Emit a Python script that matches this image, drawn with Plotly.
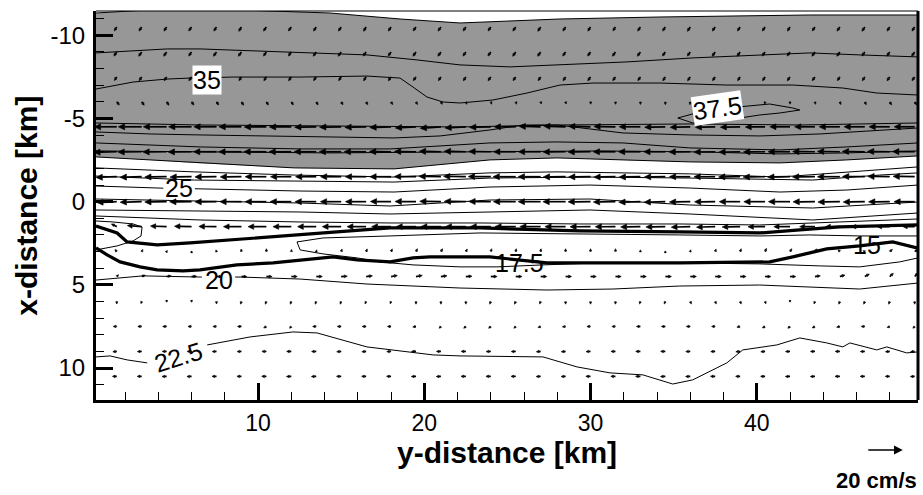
import math
import plotly.graph_objects as go

FONT = "Liberation Sans, Arial, sans-serif"
GRAY = "#979797"

# ------------------------------------------------------------------
# Velocity field (cm/s): columns along y-distance, rows along x-distance
# u > 0 points towards larger y-distance, v > 0 towards larger x-distance
# ------------------------------------------------------------------
grid_y_km = [1.5, 3.0, 4.5, 6.0, 7.5, 9.0, 10.5, 12.0, 13.5, 15.0, 16.5,
             18.0, 19.5, 21.0, 22.5, 24.0, 25.5, 27.0, 28.5, 30.0, 31.5, 33.0,
             34.5, 36.0, 37.5, 39.0, 40.5, 42.0, 43.5, 45.0, 46.5, 48.0, 49.5]
grid_x_km = [-10.5, -9.0, -7.5, -6.0, -4.5, -3.0, -1.5, 0.0, 1.5, 3.0, 4.5,
             6.0, 7.5, 9.0, 10.5]

u_cms = [
    [-1.4, -1.5, -1.5, -1.6, -1.5, -1.5, -1.6, -1.6, -1.5, -1.5, -1.4,
     -1.5, -1.6, -1.6, -1.5, -1.5, -1.6, -1.6, -1.5, -1.5, -1.4, -1.5,
     -1.5, -1.6, -1.6, -1.5, -1.5, -1.4, -1.5, -1.6, -1.6, -1.5, -1.5],
    [-1.6, -1.7, -1.7, -1.6, -1.7, -1.7, -1.6, -1.6, -1.7, -1.7, -1.6,
     -1.6, -1.7, -1.7, -1.6, -1.6, -1.7, -1.7, -1.6, -1.6, -1.7, -1.7,
     -1.6, -1.6, -1.7, -1.7, -1.6, -1.6, -1.7, -1.7, -1.6, -1.6, -1.7],
    [-1.3, -1.4, -1.4, -1.5, -1.5, -1.4, -1.4, -1.5, -1.5, -1.4, -1.4,
     -1.5, -1.5, -1.4, -1.4, -1.5, -1.5, -1.4, -1.4, -1.5, -1.5, -1.4,
     -1.4, -1.5, -1.5, -1.4, -1.4, -1.5, -1.5, -1.4, -1.4, -1.5, -1.5],
    [1.4, 1.4, 1.3, 1.3, 1.2, 1.2, 1.1, 1.1, 1.0, 1.0, 0.9,
     0.9, 0.8, 0.8, 0.6, 0.5, 0.5, 0.4, 0.3, 0.2, 0.1, 0.0,
     0.0, -0.2, -0.3, -0.3, -0.2, 0.0, 0.3, 0.5, 0.8, 1.0, 1.1],
    [-12.5, -13.0, -13.0, -12.8, -12.6, -12.5, -12.3, -12.2, -12.0, -12.0, -11.8,
     -11.8, -11.5, -11.5, -11.6, -11.8, -12.0, -12.0, -12.2, -12.2, -12.0, -11.8,
     -11.5, -11.2, -11.0, -11.0, -11.0, -11.2, -11.3, -11.5, -11.5, -11.5, -11.4],
    [-12.8, -13.2, -13.2, -13.0, -12.8, -12.6, -12.5, -12.4, -12.3, -12.2, -12.2,
     -12.0, -12.0, -12.0, -12.0, -12.2, -12.3, -12.4, -12.5, -12.5, -12.4, -12.2,
     -12.0, -11.8, -11.8, -11.8, -12.0, -12.2, -12.4, -12.5, -12.5, -12.4, -12.3],
    [-11.5, -12.0, -12.2, -12.0, -12.0, -11.8, -11.8, -11.6, -11.5, -11.5, -11.6,
     -11.8, -12.0, -12.2, -12.4, -12.5, -12.6, -12.5, -12.4, -12.2, -12.0, -11.8,
     -11.6, -11.6, -11.8, -12.0, -12.2, -12.4, -12.5, -12.5, -12.4, -12.2, -12.0],
    [-11.0, -12.0, -12.2, -12.2, -12.0, -12.0, -11.8, -11.8, -11.8, -11.6, -11.5,
     -11.5, -11.6, -11.8, -12.0, -12.2, -12.4, -12.5, -12.6, -12.5, -12.3, -12.0,
     -11.8, -11.6, -11.5, -11.6, -11.8, -12.0, -12.2, -12.2, -12.0, -11.8, -11.5],
    [-3.0, -8.0, -9.0, -9.5, -9.8, -10.0, -10.2, -10.2, -10.4, -10.5, -10.6,
     -10.8, -11.0, -11.2, -11.4, -11.5, -11.6, -11.6, -11.5, -11.4, -11.2, -11.0,
     -10.8, -10.6, -10.4, -10.0, -9.5, -9.0, -8.5, -8.0, -7.5, -7.0, -6.5],
    [-1.0, 0.6, 0.4, 0.0, -0.3, -0.2, 0.0, 0.2, 0.3, 0.5, 0.6,
     0.7, 0.8, 0.9, 0.8, 0.5, 0.3, 0.2, 0.0, 0.0, 0.0, 0.0,
     0.0, 0.3, 0.5, 0.6, 0.8, 1.0, 1.2, -1.0, -1.0, 1.5, 1.8],
    [1.0, 2.0, 2.5, 2.8, 3.0, 3.0, 3.2, 3.3, 3.4, 3.4, 3.5,
     3.5, 3.5, 3.4, 3.4, 3.5, 3.5, 3.4, 3.3, 3.2, 3.2, 3.3,
     3.4, 3.4, 3.4, 3.3, 3.2, 3.2, 3.0, 2.8, 2.5, 2.0, 1.8],
    [0.0, -0.4, 0.0, 0.0, 0.0, -0.5, -0.6, -0.6, -0.6, -0.6, -0.6,
     -0.5, 0.0, 0.0, 0.0, -0.6, -0.7, -0.6, 0.0, 0.0, 0.0, -0.5,
     -0.6, 0.6, 0.6, 0.6, 0.5, 0.0, -0.5, -0.6, -0.6, -0.6, 0.0],
    [-2.0, -2.2, -2.2, -2.0, -2.0, -2.2, -1.5, -1.0, -2.0, -2.2, -2.2,
     -2.0, -1.8, -1.0, -1.2, -1.2, -1.0, -1.5, -1.8, -2.0, -2.0, -2.2,
     -2.2, -2.2, -2.0, -1.8, -1.5, -1.2, -1.5, -1.8, -2.0, -1.5, -1.0],
    [-2.2, -2.4, -2.5, -2.5, -2.4, -2.4, -2.5, -2.6, -2.6, -2.5, -2.4,
     -2.4, -2.5, -2.5, -2.6, -2.6, -2.5, -2.4, -2.4, -2.5, -2.5, -2.6,
     -2.6, -2.5, -2.5, -2.4, -2.4, -2.5, -2.5, -2.6, -2.5, -2.4, -2.3],
    [-2.4, -2.5, -2.6, -2.6, -2.5, -2.5, -2.6, -2.7, -2.7, -2.6, -2.5,
     -2.5, -2.6, -2.6, -2.7, -2.7, -2.6, -2.5, -2.5, -2.6, -2.6, -2.7,
     -2.7, -2.6, -2.6, -2.5, -2.5, -2.6, -2.6, -2.7, -2.6, -2.5, -2.4],
]

v_cms = [
    [2.2, 2.3, 2.3, 2.2, 2.3, 2.4, 2.3, 2.2, 2.3, 2.3, 2.4,
     2.3, 2.2, 2.3, 2.3, 2.2, 2.3, 2.4, 2.3, 2.3, 2.2, 2.3,
     2.3, 2.4, 2.3, 2.2, 2.3, 2.3, 2.2, 2.3, 2.4, 2.3, 2.3],
    [2.3, 2.4, 2.4, 2.3, 2.4, 2.4, 2.3, 2.3, 2.4, 2.4, 2.3,
     2.3, 2.4, 2.4, 2.3, 2.3, 2.4, 2.4, 2.3, 2.3, 2.4, 2.4,
     2.3, 2.3, 2.4, 2.4, 2.3, 2.3, 2.4, 2.4, 2.3, 2.3, 2.4],
    [2.0, 2.1, 2.2, 2.2, 2.1, 2.1, 2.2, 2.2, 2.1, 2.1, 2.2,
     2.2, 2.1, 2.1, 2.2, 2.2, 2.1, 2.1, 2.2, 2.2, 2.1, 2.1,
     2.2, 2.2, 2.1, 2.1, 2.2, 2.2, 2.1, 2.1, 2.2, 2.2, 2.1],
    [1.8, 1.9, 1.9, 1.8, 1.8, 1.9, 1.8, 1.7, 1.7, 1.6, 1.6,
     1.5, 1.5, 1.4, 1.4, 1.3, 1.3, 1.2, 1.2, 1.3, 1.4, 1.5,
     1.6, 1.6, 1.5, 1.4, 1.3, 1.3, 1.4, 1.5, 1.6, 1.7, 1.7],
    [0.0, 0.0, 0.0, 0.0, 0.0, 0.0, 0.1, 0.1, 0.2, 0.2, 0.3,
     0.4, 0.6, 0.8, 0.6, 0.3, 0.0, -0.3, -0.4, -0.3, -0.2, 0.0,
     0.2, 0.3, 0.3, 0.2, 0.1, 0.0, 0.0, 0.0, 0.0, 0.0, 0.0],
    [0.3, 0.2, 0.1, 0.1, 0.0, 0.0, 0.0, 0.0, 0.0, 0.0, 0.0,
     -0.1, -0.2, -0.3, -0.3, -0.2, 0.0, 0.0, 0.1, 0.1, 0.0, 0.0,
     0.0, 0.1, 0.2, 0.2, 0.1, 0.0, -0.1, -0.2, -0.2, -0.2, -0.1],
    [0.4, 0.3, 0.2, 0.2, 0.1, 0.1, 0.0, 0.0, 0.0, 0.0, 0.0,
     0.0, -0.1, -0.2, -0.2, -0.1, 0.0, 0.0, 0.1, 0.1, 0.2, 0.2,
     0.1, 0.0, 0.0, 0.1, 0.2, 0.2, 0.1, 0.0, -0.1, -0.2, -0.2],
    [0.5, 0.3, 0.2, 0.1, 0.1, 0.0, 0.0, 0.0, 0.0, 0.0, 0.0,
     -0.1, -0.1, -0.2, -0.2, -0.1, 0.0, 0.0, 0.0, 0.1, 0.2, 0.3,
     0.3, 0.2, 0.1, 0.0, 0.0, 0.0, 0.1, 0.2, 0.2, 0.1, 0.0],
    [-1.5, -0.6, -0.3, -0.2, -0.1, 0.0, 0.0, 0.0, 0.0, 0.0, 0.0,
     0.0, 0.0, 0.0, 0.0, 0.0, 0.0, 0.0, 0.0, 0.1, 0.1, 0.2,
     0.2, 0.3, 0.3, 0.2, 0.1, 0.0, 0.0, 0.0, 0.0, 0.0, 0.0],
    [-1.2, -1.2, -0.6, -0.4, -1.0, -1.4, -1.6, -1.2, -1.0, -1.4, -1.5,
     -1.5, -1.6, -1.6, -1.4, -1.6, -1.6, -1.6, -1.6, -1.6, -1.6, -1.0,
     -0.4, -1.0, -1.4, -1.6, -1.8, -1.6, -1.5, -1.0, -0.5, -1.2, -1.0],
    [-1.0, -0.8, -0.4, -0.2, 0.0, 0.0, 0.0, 0.0, 0.0, -0.2, -0.4,
     -0.6, -0.6, -0.4, -0.2, 0.0, 0.0, 0.0, 0.0, 0.0, 0.0, 0.0,
     0.0, 0.0, 0.0, 0.0, 0.0, 0.0, -0.4, -0.8, -1.4, -1.8, -2.0],
    [1.4, 1.2, 0.4, 0.4, 1.4, 1.5, 1.5, 1.5, 1.5, 1.5, 1.4,
     1.3, 1.5, 1.5, 1.5, 1.5, 1.5, 1.4, 1.5, 1.5, 1.5, 1.4,
     1.4, 1.4, 1.4, 1.4, 1.3, 0.4, 1.4, 1.5, 1.5, 1.5, 1.5],
    [0.0, 0.0, 0.0, 0.0, 0.0, 0.0, 0.8, 1.0, 0.0, 0.0, 0.0,
     0.0, 0.3, 1.0, 1.0, 1.0, 1.0, 0.6, 0.2, 0.0, 0.0, 0.0,
     0.0, 0.0, 0.0, 0.4, 0.8, 1.0, 0.8, 0.4, 0.0, 0.6, 1.0],
    [0.2, 0.1, 0.0, 0.0, 0.1, 0.1, 0.0, 0.0, 0.1, 0.2, 0.2,
     0.1, 0.0, 0.0, 0.0, 0.1, 0.1, 0.2, 0.2, 0.1, 0.0, 0.0,
     0.0, 0.1, 0.1, 0.2, 0.2, 0.1, 0.0, 0.0, 0.1, 0.2, 0.2],
    [0.0, 0.0, 0.1, 0.1, 0.0, 0.0, 0.0, 0.1, 0.1, 0.0, 0.0,
     0.0, 0.1, 0.1, 0.0, 0.0, 0.0, 0.1, 0.1, 0.0, 0.0, 0.0,
     0.1, 0.1, 0.0, 0.0, 0.0, 0.1, 0.1, 0.0, 0.0, 0.0, 0.1],
]

# vector length: 20 cm/s is drawn 2.165 km long
KEY_SPEED_CMS = 20
KM_PER_CMS = 2.165 / KEY_SPEED_CMS

# ------------------------------------------------------------------
# Isolines (y-distance km, x-distance km); None marks a break for a label
# ------------------------------------------------------------------
# upper and lower edges of the shaded band
shade_top_y = [0.25, 3.0, 8.0, 10.54, 14.33, 18.54, 22.15, 28.16, 34.17, 43.19, 49.7]
shade_top_x = [-11.34, -11.5, -11.55, -11.46, -11.34, -10.98, -10.74, -10.98, -11.10, -11.22, -11.22]
shade_bot_y = [0.25, 3.51, 6.16, 12.17, 18.18, 23.95, 27.98, 31.95, 35.97, 41.39, 45.42, 49.7]
shade_bot_x = [-2.69, -2.51, -2.33, -2.03, -1.97, -2.51, -2.63, -2.51, -2.39, -2.33, -2.51, -2.75]

line_b_y = [0.25, 1.52, 4.53, 6.51, 9.52, 12.53, 16.55, 19.56, 22.15, 25.15, 28.16, 32.19, 36.15, 40.18, 43.19, 46.19, 49.7]
line_b_x = [-8.94, -9.00, -9.18, -9.18, -9.06, -8.94, -8.82, -8.52, -8.22, -8.10, -8.22, -8.40, -8.64, -8.82, -8.94, -8.82, -8.70]

line_35_y = [0.25, 2.48, 4.53, 5.91, 8.50, 12.53, 16.55, 18.54, 19.32, 20.16, 21.13, 22.15, 24.13, 26.18, 28.16, 30.14, 34.17, 38.20, 42.17, 45.18, 47.22, 49.7]
line_35_x = [-6.77, -7.19, -7.37, -7.43, -7.49, -7.49, -7.55, -7.43, -6.89, -6.29, -5.99, -5.93, -6.11, -6.53, -7.01, -7.13, -7.13, -7.01, -7.01, -6.83, -6.53, -6.41]

loop_375_y = [35.25, 36.58, 38.20, 39.40, 40.78, 42.17, 42.59, 41.39, 40.18, 38.20, 36.15, 35.25]
loop_375_x = [-5.03, -5.39, -5.63, -5.75, -5.87, -5.63, -5.51, -5.33, -5.21, -4.91, -4.73, -5.03]

line_g1_y = [0.25, 6.51, 14.33, 22.15, 28.16, 35.97, 42.59, 49.7]
line_g1_x = [-4.73, -4.61, -4.55, -4.49, -4.61, -4.67, -4.61, -4.73]

line_g2_y = [0.25, 3.51, 6.51, 10.12, 14.33, 18.18, 20.95, 23.95, 25.93, 27.98, 29.96, 31.95, 35.97, 40.18, 43.79, 46.80, 49.7]
line_g2_x = [-4.19, -4.07, -4.01, -3.95, -3.89, -3.83, -3.95, -4.31, -4.61, -4.61, -4.37, -4.13, -4.01, -3.95, -4.07, -4.25, -4.43]

line_g3_y = [0.25, 6.51, 12.53, 17.94, 23.95, 27.98, 31.95, 35.97, 41.39, 45.42, 49.7]
line_g3_x = [-3.53, -3.29, -3.17, -3.17, -3.53, -3.59, -3.53, -3.23, -3.11, -3.29, -3.53]

line_g4_y = [0.25, 6.51, 14.33, 22.15, 30.57, 36.58, 41.39, 45.42, 49.7]
line_g4_x = [-3.05, -2.99, -2.93, -2.99, -3.05, -2.99, -2.87, -2.93, -3.05]

line_w1_y = [0.25, 6.16, 12.17, 18.18, 23.95, 27.98, 31.95, 35.97, 41.39, 45.42, 49.7]
line_w1_x = [-2.03, -1.79, -1.60, -1.48, -1.73, -1.79, -1.73, -1.67, -1.48, -1.79, -2.09]

line_w2_y = [0.25, 6.16, 12.17, 18.18, 23.95, 29.96, 35.97, 43.37, 47.40, 49.7]
line_w2_x = [-1.54, -1.30, -1.24, -1.18, -1.42, -1.48, -1.42, -1.30, -1.60, -1.73]

line_25_y = [0.25, 4.11, 4.30, None, 6.20, 6.51, 12.53, 18.18, 23.95, 29.96, 35.97, 41.39, 45.42, 49.7]
line_25_x = [-0.94, -0.82, -0.81, None, -0.78, -0.77, -0.64, -0.58, -0.88, -1.00, -0.82, -0.58, -0.70, -1.00]

line_w4_y = [0.25, 6.51, 12.53, 17.94, 23.95, 29.96, 35.97, 43.37, 49.7]
line_w4_x = [-0.16, -0.04, 0.08, 0.26, -0.10, -0.16, 0.20, 0.38, 0.02]

line_w5_y = [0.25, 6.51, 12.53, 17.94, 23.95, 29.96, 35.97, 43.37, 49.7]
line_w5_x = [0.50, 0.56, 0.62, 0.74, 0.62, 0.50, 0.74, 1.10, 0.68]

line_w6_y = [0.25, 3.51, 6.51, 12.53, 17.94, 23.35, 29.36, 35.37, 40.18, 44.99, 49.7]
line_w6_x = [0.86, 0.98, 1.10, 1.22, 1.28, 1.28, 1.34, 1.34, 1.40, 1.22, 1.04]

loop_left_y = [0.25, 1.28, 2.48, 3.02, 2.96, 2.48, 1.52, 0.25]
loop_left_x = [1.16, 1.22, 1.34, 1.52, 2.06, 2.36, 2.66, 2.90]

line_15_y = [49.7, 46.19, 43.19, 40.18, 35.37, 29.36, 23.35, 17.94, 13.91, 12.34, 12.53, 13.91, 15.96, 17.33,
             19.32, 22.15, 24.37, 27.14, 30.57, 35.37, 40.18, 43.79, 46.19, 48.6, 49.7]
line_15_x = [2.06, 2.06, 2.00, 2.06, 2.00, 1.94, 1.88, 2.06, 2.18, 2.42, 2.90, 3.14, 3.38, 3.62,
             3.80, 3.92, 3.92, 3.80, 3.68, 3.68, 3.74, 3.86, 3.92, 3.62, 3.38]

line_20_y = [0.25, 3.08, 6.51, 6.62, None, 8.62, 8.92, 12.53, 16.55, 22.15, 27.38, 31.35, 35.37, 40.18, 43.79, 46.19, 49.7]
line_20_x = [4.71, 4.46, 4.53, 4.53, None, 4.53, 4.53, 4.65, 4.95, 5.19, 5.31, 5.25, 5.07, 5.01, 5.13, 5.25, 4.89]

line_225_y = [0.25, 1.10, 2.12, 3.33, None, 6.94, 9.52, 12.10, 13.55, 16.55, 20.53, 22.15, 27.14, 29.18, 31.17,
              33.15, 34.95, 36.15, 38.20, 39.16, 41.21, 42.59, 44.21, 45.18, 45.60, 47.22, 47.82, 49.02, 49.7]
line_225_x = [9.33, 9.27, 9.51, 9.69, None, 8.61, 8.13, 7.83, 7.89, 8.73, 9.21, 9.27, 9.33, 9.93, 10.29,
              10.41, 10.96, 10.71, 9.69, 8.91, 8.61, 8.19, 8.49, 8.73, 8.49, 8.91, 8.73, 9.09, 9.03]

# bold isolines
bold_upper_y = [0.25, 1.52, 2.12, 3.93, 5.91, 9.94, 13.91, 17.94, 23.35, 29.36, 35.37, 40.18, 42.59, 44.99, 49.7]
bold_upper_x = [1.46, 1.88, 2.42, 2.60, 2.48, 2.18, 1.88, 1.58, 1.58, 1.76, 1.82, 1.88, 1.70, 1.52, 1.40]

bold_lower_y = [0.25, 0.92, 1.70, 2.90, 3.93, 5.49, 6.51, 8.72, 10.90, 13.91, 14.51, 15.96, 17.94, 19.32,
                20.34, 23.95, 27.38, 35.37, 40.78, 42.17, 44.21, 46.19, 48.18, 49.7]
bold_lower_x = [2.78, 3.20, 3.62, 3.92, 4.10, 4.16, 4.10, 3.80, 3.68, 3.38, 3.32, 3.50, 3.62, 3.38,
                3.32, 3.32, 3.68, 3.68, 3.62, 3.32, 2.84, 2.66, 2.42, 2.80]

# isoline labels
label_level = [35, 37.5, 25, 20, 22.5, 17.5, 15]
label_y_km = [6.94, 37.66, 5.25, 7.62, 5.19, 25.75, 46.62]
label_x_km = [-7.31, -5.63, -0.82, 4.71, 9.33, 3.68, 2.60]
label_angle = [0, -8, 0, 0, -17, 0, 0]
label_boxed = [True, True, False, False, False, False, False]

# ------------------------------------------------------------------
fig = go.Figure()

# shaded band
fig.add_trace(go.Scatter(
    x=shade_top_y + shade_bot_y[::-1], y=shade_top_x + shade_bot_x[::-1],
    mode="lines", fill="toself", fillcolor=GRAY, line=dict(width=0),
    hoverinfo="skip", showlegend=False))

thin_lines = [
    (shade_top_y, shade_top_x), (shade_bot_y, shade_bot_x),
    (line_b_y, line_b_x), (line_35_y, line_35_x), (loop_375_y, loop_375_x),
    (line_g1_y, line_g1_x), (line_g2_y, line_g2_x), (line_g3_y, line_g3_x),
    (line_g4_y, line_g4_x), (line_w1_y, line_w1_x), (line_w2_y, line_w2_x),
    (line_25_y, line_25_x), (line_w4_y, line_w4_x), (line_w5_y, line_w5_x),
    (line_w6_y, line_w6_x), (loop_left_y, loop_left_x), (line_15_y, line_15_x),
    (line_20_y, line_20_x), (line_225_y, line_225_x),
]
for ys, xs in thin_lines:
    fig.add_trace(go.Scatter(x=ys, y=xs, mode="lines", connectgaps=False,
                             line=dict(color="black", width=1),
                             hoverinfo="skip", showlegend=False))

for ys, xs in [(bold_upper_y, bold_upper_x), (bold_lower_y, bold_lower_x)]:
    fig.add_trace(go.Scatter(x=ys, y=xs, mode="lines",
                             line=dict(color="black", width=3.2),
                             hoverinfo="skip", showlegend=False))

# velocity vectors: tail at grid node, filled triangular head
shaft_h, shaft_v, head_h, head_v = [], [], [], []
for i, xr in enumerate(grid_x_km):
    for j, yc in enumerate(grid_y_km):
        du = u_cms[i][j] * KM_PER_CMS
        dv = v_cms[i][j] * KM_PER_CMS
        length = math.hypot(du, dv)
        if length < 1e-6:
            continue
        eu, ev = du / length, dv / length
        hl = min(0.38, 0.22 * length + 0.10)
        hw = 0.48 * hl
        tip_h, tip_v = yc + du, xr + dv
        base_h, base_v = tip_h - eu * hl, tip_v - ev * hl
        shaft_h += [yc, base_h, None]
        shaft_v += [xr, base_v, None]
        nh, nv = -ev, eu
        head_h += [tip_h, base_h + nh * hw, base_h - nh * hw, tip_h, None]
        head_v += [tip_v, base_v + nv * hw, base_v - nv * hw, tip_v, None]

fig.add_trace(go.Scatter(x=shaft_h, y=shaft_v, mode="lines",
                         line=dict(color="black", width=1.7),
                         hoverinfo="skip", showlegend=False))
fig.add_trace(go.Scatter(x=head_h, y=head_v, mode="lines", fill="toself",
                         fillcolor="black", line=dict(color="black", width=0.6),
                         hoverinfo="skip", showlegend=False))

annotations = []
for lev, ly, lx, ang, boxed in zip(label_level, label_y_km, label_x_km, label_angle, label_boxed):
    annotations.append(dict(
        x=ly, y=lx, xref="x", yref="y", text=f"{lev:g}", showarrow=False,
        textangle=ang, font=dict(family=FONT, size=25, color="black"),
        bgcolor="white" if boxed else "rgba(0,0,0,0)", borderpad=0))

# axis titles
annotations.append(dict(x=0.5, y=-0.134, xref="paper", yref="paper",
                        text="<b>y-distance [km]</b>", showarrow=False,
                        xanchor="center", yanchor="middle",
                        font=dict(family=FONT, size=30, color="black")))
annotations.append(dict(x=-0.085, y=0.5, xref="paper", yref="paper",
                        text="<b>x-distance [km]</b>", showarrow=False,
                        textangle=-90, xanchor="center", yanchor="middle",
                        font=dict(family=FONT, size=30, color="black")))

# reference vector
key_tail_y_km = 46.62
annotations.append(dict(x=key_tail_y_km + KEY_SPEED_CMS * KM_PER_CMS, y=-0.1285,
                        xref="x", yref="paper", ax=key_tail_y_km, ay=0,
                        axref="x", ayref="pixel", text="", showarrow=True,
                        arrowhead=2, arrowsize=1.1, arrowwidth=1.6,
                        arrowcolor="black", standoff=0))
annotations.append(dict(x=0.95, y=-0.206, xref="paper", yref="paper",
                        text=f"<b>{KEY_SPEED_CMS} cm/s</b>", showarrow=False,
                        xanchor="center", yanchor="middle",
                        font=dict(family=FONT, size=22, color="black")))

fig.update_layout(
    width=923, height=495,
    margin=dict(l=96, r=5, t=11, b=95),
    paper_bgcolor="white", plot_bgcolor="white",
    showlegend=False,
    annotations=annotations,
    shapes=[
        dict(type="line", xref="paper", yref="paper", x0=1, x1=1, y0=0, y1=1,
             line=dict(color="black", width=3)),
        dict(type="line", xref="paper", yref="paper", x0=0, x1=1, y0=1, y1=1,
             line=dict(color="black", width=1.2)),
    ],
)

fig.update_xaxes(
    range=[0.25, 49.7], tickmode="linear", tick0=0, dtick=10,
    ticks="inside", ticklen=17, tickwidth=3, tickcolor="black",
    showline=True, linewidth=3, linecolor="black", showgrid=False, zeroline=False,
    tickfont=dict(family=FONT, size=23, color="black"),
    minor=dict(tickmode="linear", tick0=0, dtick=2, ticks="inside",
               ticklen=8, tickwidth=1, tickcolor="black", showgrid=False),
)
fig.update_yaxes(
    range=[11.92, -11.46], tickmode="array",
    tickvals=[-10, -5, 0, 5, 10], ticktext=["-10", "-5", "0", "5", "10"],
    ticks="inside", ticklen=17, tickwidth=3, tickcolor="black",
    showline=True, linewidth=3, linecolor="black", showgrid=False, zeroline=False,
    tickfont=dict(family=FONT, size=24, color="black"), ticklabelstandoff=3,
    minor=dict(tickmode="linear", tick0=0, dtick=1, ticks="inside",
               ticklen=8, tickwidth=1, tickcolor="black", showgrid=False),
)

fig.write_html("out.html")
